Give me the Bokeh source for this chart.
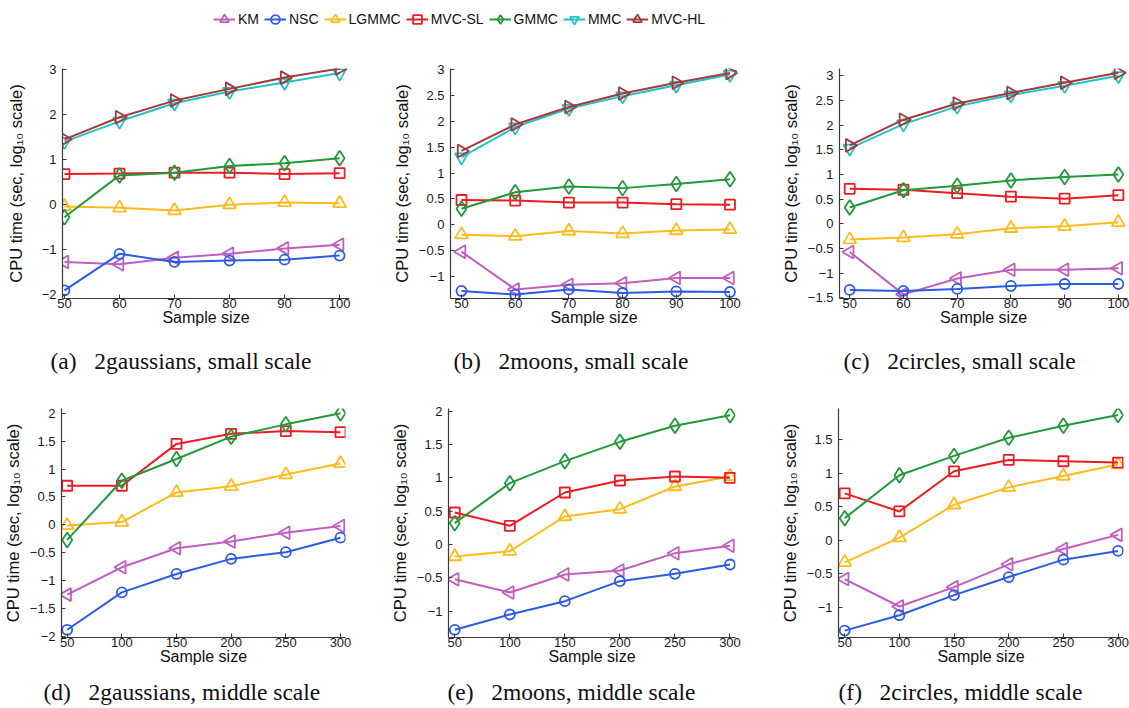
import math
from bokeh.plotting import figure
from bokeh.layouts import column, row
from bokeh.models import (Range1d, FixedTicker, CustomJSTickFormatter, Legend, LegendItem,
                          ColumnDataSource, Label)
from bokeh.embed import file_html
from bokeh.resources import INLINE

# ---------------- data ----------------
methods = ["KM", "NSC", "LGMMC", "MVC-SL", "GMMC", "MMC", "MVC-HL"]
colors = ["#c05ec0", "#2b5be3", "#ffbb1c", "#ec1c24", "#22993a", "#22c2c8", "#a33b3b"]

x_small = [50, 60, 70, 80, 90, 100]
x_middle = [50, 100, 150, 200, 250, 300]

# (a) 2gaussians, small scale
a_KM = [-1.27, -1.32, -1.18, -1.09, -0.97, -0.89]
a_NSC = [-1.90, -1.09, -1.27, -1.24, -1.22, -1.13]
a_LGMMC = [-0.04, -0.07, -0.13, 0.00, 0.05, 0.03]
a_MVCSL = [0.68, 0.69, 0.71, 0.71, 0.68, 0.70]
a_GMMC = [-0.28, 0.65, 0.71, 0.86, 0.92, 1.03]
a_MMC = [1.40, 1.85, 2.25, 2.51, 2.71, 2.92]
a_MVCHL = [1.45, 1.94, 2.31, 2.57, 2.82, 3.02]

# (b) 2moons, small scale
b_KM = [-0.52, -1.25, -1.16, -1.13, -1.03, -1.03]
b_NSC = [-1.28, -1.35, -1.25, -1.32, -1.29, -1.30]
b_LGMMC = [-0.19, -0.22, -0.12, -0.17, -0.11, -0.09]
b_MVCSL = [0.48, 0.47, 0.43, 0.43, 0.40, 0.39]
b_GMMC = [0.31, 0.63, 0.74, 0.71, 0.79, 0.88]
b_MMC = [1.31, 1.89, 2.25, 2.49, 2.70, 2.91]
b_MVCHL = [1.43, 1.94, 2.28, 2.54, 2.75, 2.94]

# (c) 2circles, small scale
c_KM = [-0.57, -1.43, -1.11, -0.93, -0.93, -0.90]
c_NSC = [-1.34, -1.36, -1.32, -1.26, -1.22, -1.22]
c_LGMMC = [-0.32, -0.28, -0.21, -0.09, -0.05, 0.03]
c_MVCSL = [0.71, 0.69, 0.62, 0.55, 0.51, 0.58]
c_GMMC = [0.33, 0.68, 0.77, 0.88, 0.95, 1.00]
c_MMC = [1.53, 2.02, 2.38, 2.61, 2.80, 3.00]
c_MVCHL = [1.59, 2.11, 2.44, 2.65, 2.86, 3.06]

# (d) 2gaussians, middle scale
d_KM = [-1.25, -0.76, -0.42, -0.30, -0.14, -0.02]
d_NSC = [-1.88, -1.21, -0.88, -0.61, -0.49, -0.23]
d_LGMMC = [-0.01, 0.05, 0.58, 0.69, 0.90, 1.10]
d_MVCSL = [0.70, 0.70, 1.45, 1.63, 1.68, 1.66]
d_GMMC = [-0.27, 0.79, 1.18, 1.58, 1.80, 2.00]

# (e) 2moons, middle scale
e_KM = [-0.52, -0.72, -0.45, -0.39, -0.13, -0.02]
e_NSC = [-1.28, -1.05, -0.85, -0.55, -0.44, -0.30]
e_LGMMC = [-0.18, -0.10, 0.42, 0.53, 0.87, 1.02]
e_MVCSL = [0.48, 0.28, 0.78, 0.96, 1.02, 1.00]
e_GMMC = [0.32, 0.92, 1.25, 1.54, 1.78, 1.94]

# (f) 2circles, middle scale
f_KM = [-0.58, -0.99, -0.70, -0.36, -0.13, 0.08]
f_NSC = [-1.35, -1.12, -0.82, -0.55, -0.29, -0.16]
f_LGMMC = [-0.33, 0.04, 0.53, 0.79, 0.96, 1.13]
f_MVCSL = [0.70, 0.43, 1.03, 1.20, 1.18, 1.16]
f_GMMC = [0.33, 0.97, 1.26, 1.53, 1.71, 1.87]

# tick values
xticks_small = [50, 60, 70, 80, 90, 100]
xticks_middle = [50, 100, 150, 200, 250, 300]
yticks_a = [-2, -1, 0, 1, 2, 3]
yticks_b = [-1, -0.5, 0, 0.5, 1, 1.5, 2, 2.5, 3]
yticks_c = [-1.5, -1, -0.5, 0, 0.5, 1, 1.5, 2, 2.5, 3]
yticks_d = [-2, -1.5, -1, -0.5, 0, 0.5, 1, 1.5, 2]
yticks_e = [-1, -0.5, 0, 0.5, 1, 1.5, 2]
yticks_f = [-1, -0.5, 0, 0.5, 1, 1.5]

captions_top = ["(a)\u00a0\u00a0 2gaussians, small scale",
                "(b)\u00a0\u00a0 2moons, small scale",
                "(c)\u00a0\u00a0 2circles, small scale"]
captions_bottom = ["(d)\u00a0\u00a0 2gaussians, middle scale",
                   "(e)\u00a0\u00a0 2moons, middle scale",
                   "(f)\u00a0\u00a0 2circles, middle scale"]

# ---------------- style ----------------
SANS = "Liberation Sans"
SERIF = "Liberation Serif"
AXIS_COL = "#3a3a3a"
marker_spec = {
    "KM": ("triangle", math.pi / 2, 13),
    "NSC": ("circle", 0.0, 10),
    "LGMMC": ("triangle", 0.0, 13),
    "MVC-SL": ("square", 0.0, 10),
    "GMMC": ("diamond", 0.0, 15),
    "MMC": ("inverted_triangle", 0.0, 13),
    "MVC-HL": ("triangle", -math.pi / 2, 13),
}

fmt = CustomJSTickFormatter(code="""
const v = Math.round(tick*100)/100;
const s = Math.abs(v).toString();
return v < 0 ? "\u2212" + s : s;
""")


def make_panel(xs, series, xr, yr, xticks, yticks, w, h, L, R, T, B, ylab_standoff):
    p = figure(width=w, height=h, output_backend="svg", toolbar_location=None,
               x_range=Range1d(*xr), y_range=Range1d(*yr),
               min_border_left=L, min_border_right=R, min_border_top=T, min_border_bottom=B)
    p.outline_line_color = None
    p.xgrid.visible = False
    p.ygrid.visible = False
    p.background_fill_color = "white"
    p.border_fill_color = "white"
    for ax in (p.xaxis[0], p.yaxis[0]):
        ax.axis_line_color = AXIS_COL
        ax.axis_line_width = 1.2
        ax.major_tick_line_color = AXIS_COL
        ax.major_tick_in = 4
        ax.major_tick_out = 0
        ax.minor_tick_line_color = None
        ax.major_label_text_font = SANS
        ax.major_label_text_font_size = "13px"
        ax.major_label_text_color = "#1a1a1a"
        ax.axis_label_text_font = SANS
        ax.axis_label_text_font_style = "normal"
        ax.axis_label_text_color = "#111111"
        ax.axis_label_text_font_size = "16px"
    p.xaxis[0].ticker = FixedTicker(ticks=xticks)
    p.yaxis[0].ticker = FixedTicker(ticks=yticks)
    p.yaxis[0].formatter = fmt
    p.xaxis[0].axis_label = "Sample size"
    p.xaxis[0].major_label_standoff = 0
    p.xaxis[0].axis_label_standoff = -2
    p.yaxis[0].axis_label = "CPU time (sec, log\u2081\u2080 scale)"
    p.yaxis[0].axis_label_text_font_size = "16.5px"
    p.yaxis[0].major_label_standoff = 6
    p.yaxis[0].axis_label_standoff = ylab_standoff
    for name, ys in series:
        i = methods.index(name)
        col = colors[i]
        mk, ang, sz = marker_spec[name]
        src = ColumnDataSource(dict(x=xs, y=ys))
        p.line("x", "y", source=src, line_color=col, line_width=2)
        p.scatter("x", "y", source=src, marker=mk, angle=ang, size=sz,
                  line_color=col, line_width=1.8, fill_color=None)
    return p


def caption_strip(texts, lefts, h, ybase):
    s = figure(width=1129, height=h, output_backend="svg", toolbar_location=None,
               x_range=Range1d(0, 1129), y_range=Range1d(0, h),
               min_border_left=0, min_border_right=0, min_border_top=0, min_border_bottom=0)
    s.axis.visible = False
    s.xgrid.visible = False
    s.ygrid.visible = False
    s.outline_line_color = None
    for t, x0 in zip(texts, lefts):
        s.add_layout(Label(x=x0, y=ybase, text=t, text_font=SERIF, text_font_size="23.5px",
                           text_color="#111111", text_baseline="middle", text_align="left"))
    return s


# row 1: figures 302 tall (frame 68..298), row 2: 300 tall (frame 408..637)
pa = make_panel(x_small, [("KM", a_KM), ("NSC", a_NSC), ("LGMMC", a_LGMMC), ("MVC-SL", a_MVCSL),
                          ("GMMC", a_GMMC), ("MMC", a_MMC), ("MVC-HL", a_MVCHL)],
                (49.64, 101.8), (-2.082, 3.022), xticks_small, yticks_a,
                376, 302, 62, 27, 28, 44, 14)
pb = make_panel(x_small, [("KM", b_KM), ("NSC", b_NSC), ("LGMMC", b_LGMMC), ("MVC-SL", b_MVCSL),
                          ("GMMC", b_GMMC), ("MMC", b_MMC), ("MVC-HL", b_MVCHL)],
                (47.95, 101.4), (-1.426, 3.025), xticks_small, yticks_b,
                376, 302, 74, 15, 28, 44, 5)
pc = make_panel(x_small, [("KM", c_KM), ("NSC", c_NSC), ("LGMMC", c_LGMMC), ("MVC-SL", c_MVCSL),
                          ("GMMC", c_GMMC), ("MMC", c_MMC), ("MVC-HL", c_MVCHL)],
                (48.1, 101.7), (-1.514, 3.148), xticks_small, yticks_c,
                377, 302, 87, 2, 28, 44, 5)
pd_ = make_panel(x_middle, [("KM", d_KM), ("NSC", d_NSC), ("LGMMC", d_LGMMC), ("MVC-SL", d_MVCSL),
                            ("GMMC", d_GMMC)],
                 (44.8, 304.6), (-2.018, 2.084), xticks_middle, yticks_d,
                 376, 300, 60, 31, 28, 43, 5)
pe = make_panel(x_middle, [("KM", e_KM), ("NSC", e_NSC), ("LGMMC", e_LGMMC), ("MVC-SL", e_MVCSL),
                           ("GMMC", e_GMMC)],
                (44.3, 305.0), (-1.395, 2.04), xticks_middle, yticks_e,
                376, 300, 72, 17, 28, 43, 5)
pf = make_panel(x_middle, [("KM", f_KM), ("NSC", f_NSC), ("LGMMC", f_LGMMC), ("MVC-SL", f_MVCSL),
                           ("GMMC", f_GMMC)],
                (44.3, 305.0), (-1.453, 1.968), xticks_middle, yticks_f,
                377, 300, 86, 6, 28, 43, 5)

cap1 = caption_strip(captions_top, [50, 453, 843], 38, 20)
cap2 = caption_strip(captions_bottom, [43, 447, 838], 28, 17)

# ---------------- legend strip ----------------
# legend renderers reuse panel (a) data, kept outside the strip's visible range
legend_series = [a_KM, a_NSC, a_LGMMC, a_MVCSL, a_GMMC, a_MMC, a_MVCHL]
lg = figure(width=1129, height=40, output_backend="svg", toolbar_location=None,
            x_range=Range1d(1000, 1001), y_range=Range1d(1000, 1001),
            min_border_left=0, min_border_right=0, min_border_top=0, min_border_bottom=0)
lg.axis.visible = False
lg.xgrid.visible = False
lg.ygrid.visible = False
lg.outline_line_color = None
items = []
for name, col, ys in zip(methods, colors, legend_series):
    mk, ang, sz = marker_spec[name]
    src = ColumnDataSource(dict(x=x_small, y=ys))
    r1 = lg.line("x", "y", source=src, line_color=col, line_width=2)
    r2 = lg.scatter("x", "y", source=src, marker=mk, angle=ang, size=sz,
                    line_color=col, line_width=1.8, fill_color=None)
    items.append(LegendItem(label=name, renderers=[r1, r2]))
leg = Legend(items=items, orientation="horizontal", location=(213, 10),
             glyph_width=22, glyph_height=22, label_standoff=3, spacing=5,
             padding=0, margin=0, border_line_color=None, background_fill_alpha=0,
             label_text_font=SANS, label_text_font_size="14px", label_text_color="#111111")
lg.add_layout(leg)

layout = column(lg, row(pa, pb, pc), cap1, row(pd_, pe, pf), cap2)
open("out.html", "w").write(file_html(layout, INLINE))
